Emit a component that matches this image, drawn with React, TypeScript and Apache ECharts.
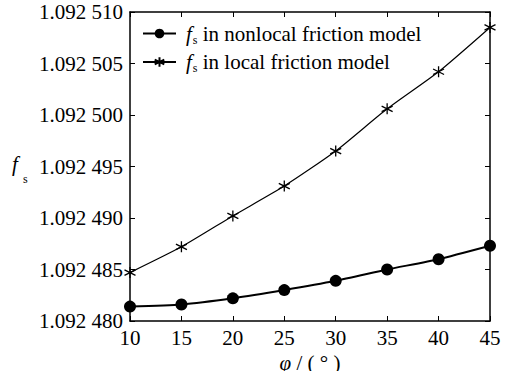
import React, { useEffect, useRef } from "react";
import * as echarts from "echarts";

const phi = [10, 15, 20, 25, 30, 35, 40, 45];
const nonlocalFs = [1.0924814, 1.0924816, 1.0924822, 1.092483, 1.0924839, 1.092485, 1.092486, 1.0924873];
const localFs = [1.0924847, 1.0924872, 1.0924902, 1.0924931, 1.0924965, 1.0925006, 1.0925042, 1.0925085];
const seriesNames = ["nonlocal", "local"];
const legendTexts = ["in nonlocal friction model", "in local friction model"];

const FONT = "Liberation Serif";

const fmtY = (v: number) => {
  const s = String(Math.round(v * 1e6));
  return s[0] + "." + s.slice(1, 4) + " " + s.slice(4);
};

const asterisk = "path://M5 0L5 10M0.67 2.5L9.33 7.5M0.67 7.5L9.33 2.5";

export default function App() {
  const ref = useRef<HTMLDivElement>(null);
  useEffect(() => {
    if (!ref.current) return;
    const chart = echarts.init(ref.current, null, { renderer: "svg" });
    const axisCommon = {
      type: "value" as const,
      axisLine: { show: true, lineStyle: { color: "#000", width: 1.5 } },
      axisTick: { show: true, inside: true, length: 5, lineStyle: { color: "#000", width: 1 } },
      splitLine: { show: false },
    };
    const rich = {
      i: { fontFamily: FONT, fontStyle: "italic" as const, fontSize: 21, color: "#000", padding: [0, 0, 0, 5] },
      j: { fontFamily: FONT, fontStyle: "italic" as const, fontSize: 21, color: "#000" },
      s: { fontFamily: FONT, fontSize: 12, color: "#000", padding: [12, 0, 0, 1] },
      t: { fontFamily: FONT, fontSize: 21, color: "#000" },
    };
    chart.setOption({
      animation: false,
      backgroundColor: "#fff",
      textStyle: { fontFamily: FONT },
      grid: { left: 130, right: 20, top: 12, bottom: 50, containLabel: false, outerBoundsMode: "none" },
      legend: {
        left: 140,
        top: 21,
        orient: "vertical",
        itemWidth: 33,
        itemHeight: 12,
        itemGap: 6,
        backgroundColor: "#fff",
        padding: [2, 4, 2, 2],
        data: seriesNames,
        formatter: (name: string) => {
          const idx = seriesNames.indexOf(name);
          return "{i|f}{s|s} {t|" + legendTexts[idx] + "}";
        },
        textStyle: { fontFamily: FONT, fontSize: 21, color: "#000", rich },
      },
      xAxis: [
        {
          ...axisCommon,
          min: 10,
          max: 45,
          interval: 5,
          position: "bottom",
          axisLabel: { fontFamily: FONT, fontSize: 21, color: "#000", margin: 6 },
          name: "{j|φ} {t|/ ( ° )}",
          nameLocation: "middle",
          nameGap: 20,
          nameTextStyle: { fontFamily: FONT, fontSize: 21, color: "#000", rich },
        },
        {
          ...axisCommon,
          min: 10,
          max: 45,
          interval: 5,
          position: "top",
          axisLabel: { show: false },
        },
      ],
      yAxis: [
        {
          ...axisCommon,
          min: 1.09248,
          max: 1.09251,
          interval: 0.000005,
          position: "left",
          axisLabel: { fontFamily: FONT, fontSize: 21, color: "#000", margin: 7, formatter: fmtY },
        },
        {
          ...axisCommon,
          min: 1.09248,
          max: 1.09251,
          interval: 0.000005,
          position: "right",
          axisLabel: { show: false },
        },
      ],
      graphic: [
        {
          type: "text",
          left: 12,
          top: 153,
          style: { text: "f", fontFamily: FONT, fontStyle: "italic", fontSize: 21, fill: "#000" },
        },
        {
          type: "text",
          left: 23,
          top: 173,
          style: { text: "s", fontFamily: FONT, fontSize: 12, fill: "#000" },
        },
      ],
      series: [
        {
          name: seriesNames[0],
          type: "line",
          data: phi.map((p, i) => [p, nonlocalFs[i]]),
          smooth: 0.2,
          symbol: "circle",
          symbolSize: 12,
          lineStyle: { color: "#000", width: 2 },
          itemStyle: { color: "#000" },
        },
        {
          name: seriesNames[1],
          type: "line",
          data: phi.map((p, i) => [p, localFs[i]]),
          smooth: 0.2,
          symbol: asterisk,
          symbolSize: 11,
          lineStyle: { color: "#000", width: 1.2 },
          itemStyle: { color: "#000", borderColor: "#000", borderWidth: 1.3 },
        },
      ],
    });
    return () => chart.dispose();
  }, []);
  return <div ref={ref} style={{ width: 510, height: 371, position: "absolute", left: 0, top: 0 }} />;
}
